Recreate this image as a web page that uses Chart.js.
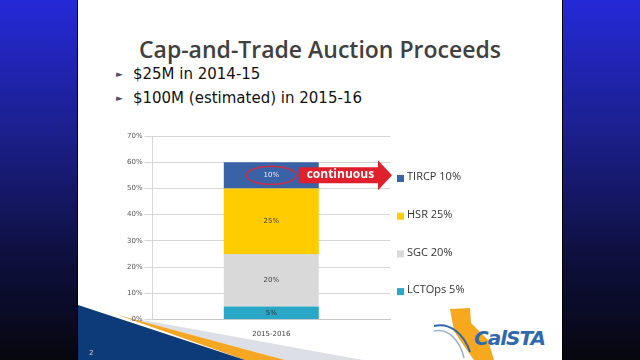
<!DOCTYPE html>
<html>
<head>
<meta charset="utf-8">
<script src="https://cdn.jsdelivr.net/npm/chart.js@4"></script>
<style>
  html, body { margin: 0; padding: 0; }
  body {
    width: 640px; height: 360px; overflow: hidden; position: relative;
    background: linear-gradient(to bottom, #2429d8 0%, #1c2090 35%, #0e1040 70%, #07070f 100%);
  }
  #slide {
    position: absolute; left: 78px; top: 0; width: 484px; height: 360px;
    background: #fff; overflow: hidden;
    box-shadow: -1px 0 0 #000, 1px 0 0 #000;
  }
  #title {
    position: absolute; left: 0; width: 484px; top: 33px; text-align: center;
    font-family: "Open Sans", sans-serif; font-weight: 600; font-size: 23px; color: #404040;
  }
  .bullet {
    position: absolute; left: 38px; font-family: "DejaVu Sans", sans-serif;
    font-size: 15px; color: #111;
  }
  .bullet span { font-size: 9px; color: #556; margin-right: 10px; position: relative; top: -2px; }
  #swoosh { position: absolute; left: 0; top: 0; }
  #logo {
    position: absolute; left: 396px; top: 326px; font-family: "DejaVu Sans", sans-serif;
    font-style: italic; font-weight: bold; font-size: 20px; color: #2f68ad; letter-spacing: -1px;
  }
  #num { position: absolute; left: 11px; top: 349px; font: 7px "DejaVu Sans", sans-serif; color: #ccd; }
  #chartBox { position: absolute; left: 100px; top: 120px; width: 390px; height: 220px; }
</style>
</head>
<body>
<div id="slide">
  <svg id="swoosh" width="484" height="360">
    <polygon points="50,318 70,321 285,360 207,360" fill="#dcdfe6"/>
    <polygon points="40,315 207,360 167,360" fill="#f5a623"/>
    <polygon points="0,305 167,360 0,360" fill="#0d3a78"/>
    <polygon points="372,309 392,308 393,323 410,340 416,360 396,360 386,346 376,331" fill="#f6a91e"/>
    <path d="M356,326 C372,322 386,334 392,352" stroke="#2f68ad" stroke-width="2" fill="none"/>
    <path d="M356,331 C370,328 382,340 386,358" stroke="#9ab0cc" stroke-width="1.5" fill="none"/>
  </svg>
  <div id="title">Cap-and-Trade Auction Proceeds</div>
  <div class="bullet" style="top:65px"><span>&#9658;</span>$25M in 2014-15</div>
  <div class="bullet" style="top:89px"><span>&#9658;</span>$100M (estimated) in 2015-16</div>
  <div id="logo">CalSTA</div>
  <div id="num">2</div>
</div>
<div id="chartBox"><canvas id="proceedsChart"></canvas></div>
<script>
const categories = ["2015-2016"];
const programs = ["LCTOps 5%", "SGC 20%", "HSR 25%", "TIRCP 10%"];
const shares = [5, 20, 25, 10];
const shareLabels = ["5%", "20%", "25%", "10%"];
const colors = ["#2aa6c6", "#d9d9d9", "#ffcc00", "#3a62a7"];
const labelColors = ["#333", "#444", "#444", "#e8ecf6"];
const yTicks = [0, 10, 20, 30, 40, 50, 60, 70];

// labels inside segments + the "continuous" callout on the top segment
const segmentLabels = {
  id: "segmentLabels",
  afterDatasetsDraw(chart) {
    const ctx = chart.ctx;
    ctx.save();
    chart.data.datasets.forEach(function (ds, i) {
      const bar = chart.getDatasetMeta(i).data[0];
      const cy = (bar.y + bar.base) / 2;
      ctx.font = "7px 'DejaVu Sans', sans-serif";
      ctx.fillStyle = labelColors[i];
      ctx.textAlign = "center";
      ctx.textBaseline = "middle";
      ctx.fillText(shareLabels[i], bar.x, cy);
      if (i === chart.data.datasets.length - 1) {
        ctx.strokeStyle = "#c8304a";
        ctx.lineWidth = 1.5;
        ctx.beginPath();
        ctx.ellipse(bar.x, cy, 25, 9, 0, 0, Math.PI * 2);
        ctx.stroke();
        const x0 = bar.x + bar.width / 2 - 20;
        const x1 = chart.chartArea.right + 2;
        ctx.fillStyle = "#e0202c";
        ctx.beginPath();
        ctx.moveTo(x0, cy - 8);
        ctx.lineTo(x1 - 14, cy - 8);
        ctx.lineTo(x1 - 14, cy - 15);
        ctx.lineTo(x1, cy);
        ctx.lineTo(x1 - 14, cy + 15);
        ctx.lineTo(x1 - 14, cy + 8);
        ctx.lineTo(x0, cy + 8);
        ctx.closePath();
        ctx.fill();
        ctx.fillStyle = "#fff";
        ctx.font = "bold 12px 'Open Sans', sans-serif";
        ctx.fillText("continuous", (x0 + x1 - 14) / 2 + 2, cy - 1);
      }
    });
    ctx.restore();
  }
};

// legend to the right of the plot, top item = top segment
const sideLegend = {
  id: "sideLegend",
  afterDraw(chart) {
    const ctx = chart.ctx;
    const area = chart.chartArea;
    const n = chart.data.datasets.length;
    ctx.save();
    ctx.font = "11px 'Open Sans', sans-serif";
    ctx.textBaseline = "middle";
    ctx.textAlign = "left";
    for (let k = 0; k < n; k++) {
      const ds = chart.data.datasets[n - 1 - k];
      const y = area.top + 41 + k * 37.7;
      ctx.fillStyle = ds.backgroundColor;
      ctx.fillRect(area.right + 7, y - 2, 7, 7);
      ctx.fillStyle = "#333";
      ctx.fillText(ds.label, area.right + 17, y);
    }
    ctx.restore();
  }
};

document.addEventListener("DOMContentLoaded", function () {
  const ctx = document.getElementById("proceedsChart").getContext("2d");
  new Chart(ctx, {
    type: "bar",
    data: {
      labels: categories,
      datasets: programs.map(function (name, i) {
        return {
          label: name,
          data: [shares[i]],
          backgroundColor: colors[i],
          borderWidth: 0,
          categoryPercentage: 1,
          barPercentage: 0.4
        };
      })
    },
    options: {
      responsive: true,
      maintainAspectRatio: false,
      animation: false,
      layout: { padding: { top: 16, right: 100, bottom: 0, left: 25 } },
      plugins: {
        legend: { display: false },
        tooltip: { enabled: false }
      },
      scales: {
        x: {
          stacked: true,
          grid: { display: false },
          border: { color: "#c8c8c8" },
          ticks: { color: "#444", padding: 2, font: { family: "'DejaVu Sans', sans-serif", size: 7 } }
        },
        y: {
          stacked: true,
          min: 0,
          max: 70,
          afterBuildTicks: function (axis) {
            axis.ticks = yTicks.map(function (v) { return { value: v }; });
          },
          grid: { color: "#d6d6d6", tickLength: 8 },
          border: { color: "#d6d6d6" },
          ticks: {
            color: "#555",
            font: { family: "'DejaVu Sans', sans-serif", size: 7 },
            padding: 2,
            callback: function (v) { return v + "%"; }
          }
        }
      }
    },
    plugins: [segmentLabels, sideLegend]
  });
});
</script>
</body>
</html>
